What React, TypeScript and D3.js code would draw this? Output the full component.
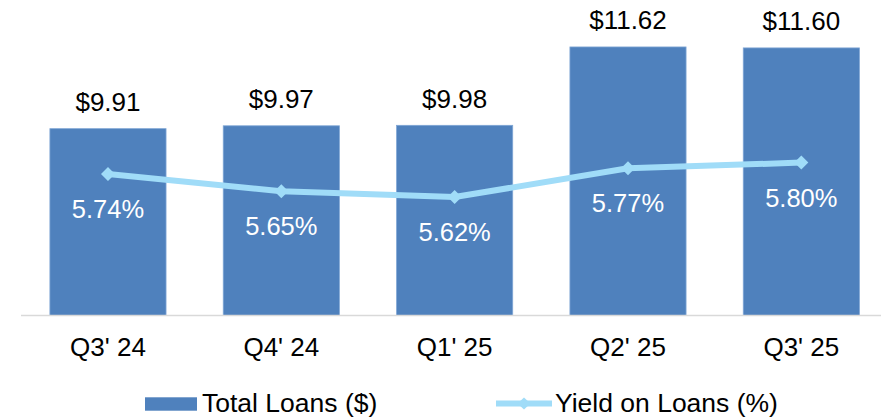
import React from "react";
import * as d3 from "d3";

const categories = ["Q3' 24", "Q4' 24", "Q1' 25", "Q2' 25", "Q3' 25"];
const totalLoans = [9.91, 9.97, 9.98, 11.62, 11.6];
const yieldOnLoans = [5.74, 5.65, 5.62, 5.77, 5.8];
const loanLabels = ["$9.91", "$9.97", "$9.98", "$11.62", "$11.60"];
const yieldLabels = ["5.74%", "5.65%", "5.62%", "5.77%", "5.80%"];

const W = 881;
const H = 418;
const FONT = "'Liberation Sans', Arial, sans-serif";
const BAR = "#4F81BD";
const LINE = "#A0DCF8";

export default function App() {
  const top = 28.8;
  const bottom = 315.5;
  const x = d3.scaleBand<string>().domain(categories).range([21.3, 888]).paddingInner(0.33).paddingOuter(0.165);
  const y = d3.scaleLinear().domain([6, 12]).range([bottom, top]);
  const y2 = d3.scaleLinear().domain([5, 6.5]).range([bottom, top]);
  const cx = (c: string) => (x(c) as number) + x.bandwidth() / 2;
  const line = d3
    .line<number>()
    .x((_, i) => cx(categories[i]))
    .y((d) => y2(d));
  const diamond = (px: number, py: number, rx: number, ry: number) =>
    `M${px},${py - ry}L${px + rx},${py}L${px},${py + ry}L${px - rx},${py}Z`;

  return (
    <svg width={W} height={H} style={{ position: "absolute", left: 0, top: 0 }} fontFamily={FONT}>
      <rect width={W} height={H} fill="#fff" />
      {categories.map((c, i) => (
        <rect
          key={c}
          x={x(c)}
          y={y(totalLoans[i])}
          width={x.bandwidth()}
          height={bottom - y(totalLoans[i])}
          fill={BAR}
          stroke="#7FA6D5"
          strokeWidth={0.8}
        />
      ))}
      <line x1={21} x2={W} y1={bottom} y2={bottom} stroke="#D9D9D9" strokeWidth={1.5} />
      {categories.map((c, i) => (
        <text key={c + "v"} x={cx(c)} y={y(totalLoans[i]) - 17.5} textAnchor="middle" fontSize={26} fill="#000">
          {loanLabels[i]}
        </text>
      ))}
      <path d={line(yieldOnLoans) || ""} fill="none" stroke={LINE} strokeWidth={6} strokeLinejoin="round" />
      {categories.map((c, i) => (
        <path key={c + "m"} d={diamond(cx(c), y2(yieldOnLoans[i]), 7, 7)} fill={LINE} />
      ))}
      {categories.map((c, i) => (
        <text key={c + "p"} x={cx(c)} y={y2(yieldOnLoans[i]) + 44} textAnchor="middle" fontSize={25.5} fill="#fff">
          {yieldLabels[i]}
        </text>
      ))}
      {categories.map((c) => (
        <text key={c + "c"} x={cx(c)} y={355.7} textAnchor="middle" fontSize={26} fill="#000">
          {c}
        </text>
      ))}
      <g>
        <rect x={145} y={397.3} width={52} height={13.4} fill={BAR} />
        <text x={202} y={411.5} fontSize={26.5} fill="#000">Total Loans ($)</text>
        <line x1={496} x2={552} y1={403.5} y2={403.5} stroke={LINE} strokeWidth={6} />
        <path d={diamond(524, 403.5, 6.5, 6)} fill={LINE} />
        <text x={555} y={411.5} fontSize={26.5} fill="#000">Yield on Loans (%)</text>
      </g>
    </svg>
  );
}
